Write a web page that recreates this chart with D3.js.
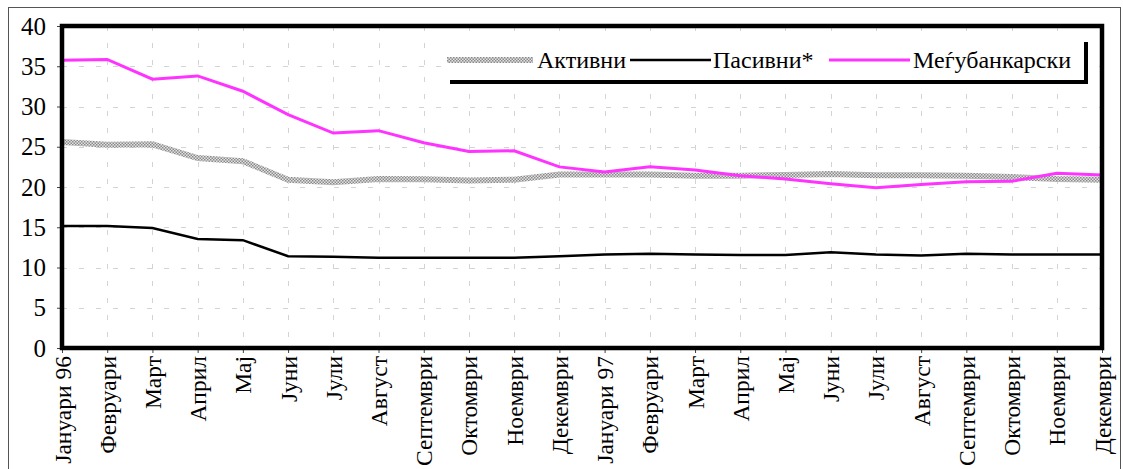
<!DOCTYPE html>
<html>
<head>
<meta charset="utf-8">
<script src="https://cdn.jsdelivr.net/npm/d3@7"></script>
<style>
  html, body { margin: 0; padding: 0; background: #fff; }
  svg { display: block; }
</style>
</head>
<body>
<svg id="chart" width="1123" height="469"></svg>
<script>
// Months, January 1996 – December 1997
const months = [
  "Јануари 96", "Февруари", "Март", "Април", "Мај", "Јуни", "Јули", "Август",
  "Септември", "Октомври", "Ноември", "Декември",
  "Јануари 97", "Февруари", "Март", "Април", "Мај", "Јуни", "Јули", "Август",
  "Септември", "Октомври", "Ноември", "Декември"
];

// Interest rates, %
const aktivni = [25.6, 25.25, 25.3, 23.6, 23.2, 20.9, 20.6, 21.0, 20.95, 20.8, 20.9, 21.55,
                 21.55, 21.55, 21.4, 21.4, 21.5, 21.6, 21.45, 21.45, 21.4, 21.25, 21.0, 20.9];
const pasivni = [15.15, 15.15, 14.9, 13.55, 13.4, 11.4, 11.35, 11.2, 11.2, 11.2, 11.2, 11.4,
                 11.6, 11.7, 11.6, 11.55, 11.55, 11.9, 11.6, 11.5, 11.7, 11.6, 11.6, 11.6];
const megjubankarski = [35.75, 35.85, 33.4, 33.8, 31.9, 29.0, 26.7, 27.0, 25.5, 24.4, 24.5, 22.5,
                        21.85, 22.5, 22.1, 21.4, 21.0, 20.4, 19.9, 20.3, 20.65, 20.7, 21.7, 21.5];

const yTicks = [0, 5, 10, 15, 20, 25, 30, 35, 40];
const seriesNames = ["Активни", "Пасивни*", "Меѓубанкарски"];

const FONT = "'Liberation Serif', 'Times New Roman', serif";
const svg = d3.select("#chart");

// hatched grey fill used for the "Активни" series
const defs = svg.append("defs");
const pat = defs.append("pattern")
  .attr("id", "checker")
  .attr("patternUnits", "userSpaceOnUse")
  .attr("width", 3).attr("height", 3);
pat.append("rect").attr("width", 3).attr("height", 3).attr("fill", "#e2e2e2");
pat.append("rect").attr("width", 1.5).attr("height", 1.5).attr("fill", "#8a8a8a");
pat.append("rect").attr("x", 1.5).attr("y", 1.5).attr("width", 1.5).attr("height", 1.5).attr("fill", "#8a8a8a");

// outer frame
svg.append("rect")
  .attr("x", 8.5).attr("y", 7.5).attr("width", 1112).attr("height", 470)
  .attr("fill", "none").attr("stroke", "#555").attr("stroke-width", 1);

const plotL = 62, plotR = 1102, plotT = 26, plotB = 348;

const x = d3.scalePoint().domain(d3.range(months.length)).range([plotL, plotR]);
const y = d3.scaleLinear().domain([0, 40]).range([plotB, plotT]);

// grid
const grid = svg.append("g").attr("stroke", "#d4d4d4").attr("stroke-width", 1)
  .attr("stroke-dasharray", "5,12");
grid.selectAll("line.h").data(yTicks.filter(d => d > 0 && d < 40)).join("line")
  .attr("x1", plotL).attr("x2", plotR)
  .attr("y1", d => Math.round(y(d)) + 0.5).attr("y2", d => Math.round(y(d)) + 0.5);
grid.selectAll("line.v").data(d3.range(1, months.length - 1)).join("line")
  .attr("x1", d => Math.round(x(d)) + 0.5).attr("x2", d => Math.round(x(d)) + 0.5)
  .attr("y1", plotT).attr("y2", plotB);

// axes
const yAxis = svg.append("g").attr("transform", `translate(${plotL},0)`)
  .call(d3.axisLeft(y).tickValues(yTicks).tickSize(5).tickPadding(11).tickFormat(d3.format("d")));
yAxis.select(".domain").remove();
yAxis.selectAll("line").attr("stroke", "#444");
yAxis.selectAll("text")
  .style("font-family", FONT).style("font-size", "25px").attr("fill", "#000");

const xAxis = svg.append("g").attr("transform", `translate(0,${plotB})`)
  .call(d3.axisBottom(x).tickSize(5).tickFormat(i => months[i]));
xAxis.select(".domain").remove();
xAxis.selectAll("line").attr("stroke", "#444");
xAxis.selectAll("text")
  .style("font-family", FONT).style("font-size", "23.5px").attr("fill", "#000")
  .attr("text-anchor", "end")
  .attr("transform", "rotate(-90)")
  .attr("x", -8).attr("y", 0).attr("dy", "0.34em");

// series lines
const line = d3.line().x((d, i) => x(i)).y(d => y(d));
svg.append("path").datum(aktivni).attr("d", line)
  .attr("fill", "none").attr("stroke", "url(#checker)").attr("stroke-width", 6);
svg.append("path").datum(pasivni).attr("d", line)
  .attr("fill", "none").attr("stroke", "#000").attr("stroke-width", 2.5);
svg.append("path").datum(megjubankarski).attr("d", line)
  .attr("fill", "none").attr("stroke", "#ff33ff").attr("stroke-width", 3);

// plot frame
svg.append("rect")
  .attr("x", plotL).attr("y", plotT).attr("width", plotR - plotL).attr("height", plotB - plotT)
  .attr("fill", "none").attr("stroke", "#000").attr("stroke-width", 4.5);

// legend with drop shadow
const lg = svg.append("g");
lg.append("rect").attr("x", 450).attr("y", 42).attr("width", 638).attr("height", 42).attr("fill", "#000");
lg.append("rect").attr("x", 446).attr("y", 38).attr("width", 638).attr("height", 42).attr("fill", "#fff");

const items = [
  { name: seriesNames[0], x0: 447, x1: 533, tx: 537, stroke: "url(#checker)", w: 6 },
  { name: seriesNames[1], x0: 630, x1: 711, tx: 713, stroke: "#000", w: 2.5 },
  { name: seriesNames[2], x0: 829, x1: 910, tx: 913, stroke: "#ff33ff", w: 3 }
];
items.forEach(it => {
  lg.append("line").attr("x1", it.x0).attr("x2", it.x1).attr("y1", 60).attr("y2", 60)
    .attr("stroke", it.stroke).attr("stroke-width", it.w);
  lg.append("text").attr("x", it.tx).attr("y", 60).attr("dy", "0.35em")
    .style("font-family", FONT).style("font-size", "24px").text(it.name);
});
</script>
</body>
</html>
